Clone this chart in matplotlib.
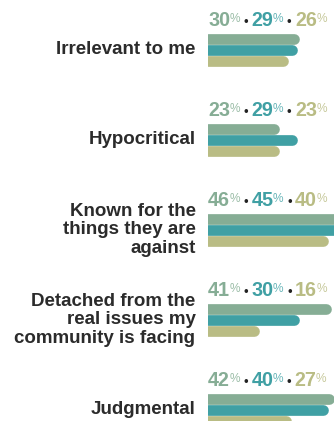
import matplotlib.pyplot as plt

plt.rcParams["font.family"] = ["Liberation Sans", "DejaVu Sans"]

# perceptions, one row per statement
categories = [
    "Irrelevant to me",
    "Hypocritical",
    "Known for the\nthings they are\nagainst",
    "Detached from the\nreal issues my\ncommunity is facing",
    "Judgmental",
]
group_a = [30, 23, 46, 41, 42]
group_b = [29, 29, 45, 30, 40]
group_c = [26, 23, 40, 16, 27]

colors = ["#86ad95", "#40a0a4", "#b9bc84"]
pct_colors = ["#9cbea8", "#6ab6b9", "#c7c99c"]
label_color = "#2b2b2b"

W, H = 334, 421
ROW_PX = 90.0          # vertical distance between statements, in pixels
PX = 1.0 / ROW_PX      # one pixel in y data units
BAR_PX = 10.7
BAR_LEFT = 208

fig = plt.figure(figsize=(W / 100, H / 100), dpi=100)
ax = fig.add_axes([BAR_LEFT / W, 0, 1 - BAR_LEFT / W, 1])
ax.set_xlim(0, (W - BAR_LEFT) / 2.88)
ax.set_ylim((H - 50) * PX, -50 * PX)
ax.axis("off")

lw = BAR_PX * 72 / 100
series = [group_a, group_b, group_c]

for i, cat in enumerate(categories):
    # three stacked bars, round cap on the right (left cap hidden by the axes clip)
    for j, vals in enumerate(series):
        y = i + (j - 1) * BAR_PX * PX
        ax.plot([0, vals[i]], [y, y], lw=lw, color=colors[j],
                solid_capstyle="round", solid_joinstyle="round")

    # value row: 30% • 29% • 26%
    base = i - 23.7 * PX
    prev = None
    for j, vals in enumerate(series):
        if prev is None:
            num = ax.text(0, base, str(vals[i]), color=colors[j], fontsize=14.2,
                          fontweight="bold", ha="left", va="baseline")
        else:
            num = ax.annotate(str(vals[i]), xy=(1, base), xycoords=(prev, "data"),
                              xytext=(2.4, 0), textcoords="offset points",
                              color=colors[j], fontsize=14.2, fontweight="bold",
                              ha="left", va="baseline", annotation_clip=False)
        pct = ax.annotate("%", xy=(1, base - 13.8 * PX), xycoords=(num, "data"),
                          xytext=(-0.4, 0), textcoords="offset points",
                          color=pct_colors[j], fontsize=8.6, ha="left", va="top",
                          annotation_clip=False)
        prev = pct
        if j < 2:
            prev = ax.annotate("\u2022", xy=(1, base), xycoords=(pct, "data"),
                               xytext=(2.6, 0), textcoords="offset points",
                               color="#222222", fontsize=9.5, ha="left",
                               va="baseline", annotation_clip=False)

    ax.annotate(cat, xy=(0, i), xycoords=("axes fraction", "data"),
                xytext=(-9, 0), textcoords="offset points", ha="right", va="center",
                fontsize=13.5, fontweight="bold", color=label_color,
                linespacing=1.12, annotation_clip=False)

fig.savefig("out.png", dpi=100)
